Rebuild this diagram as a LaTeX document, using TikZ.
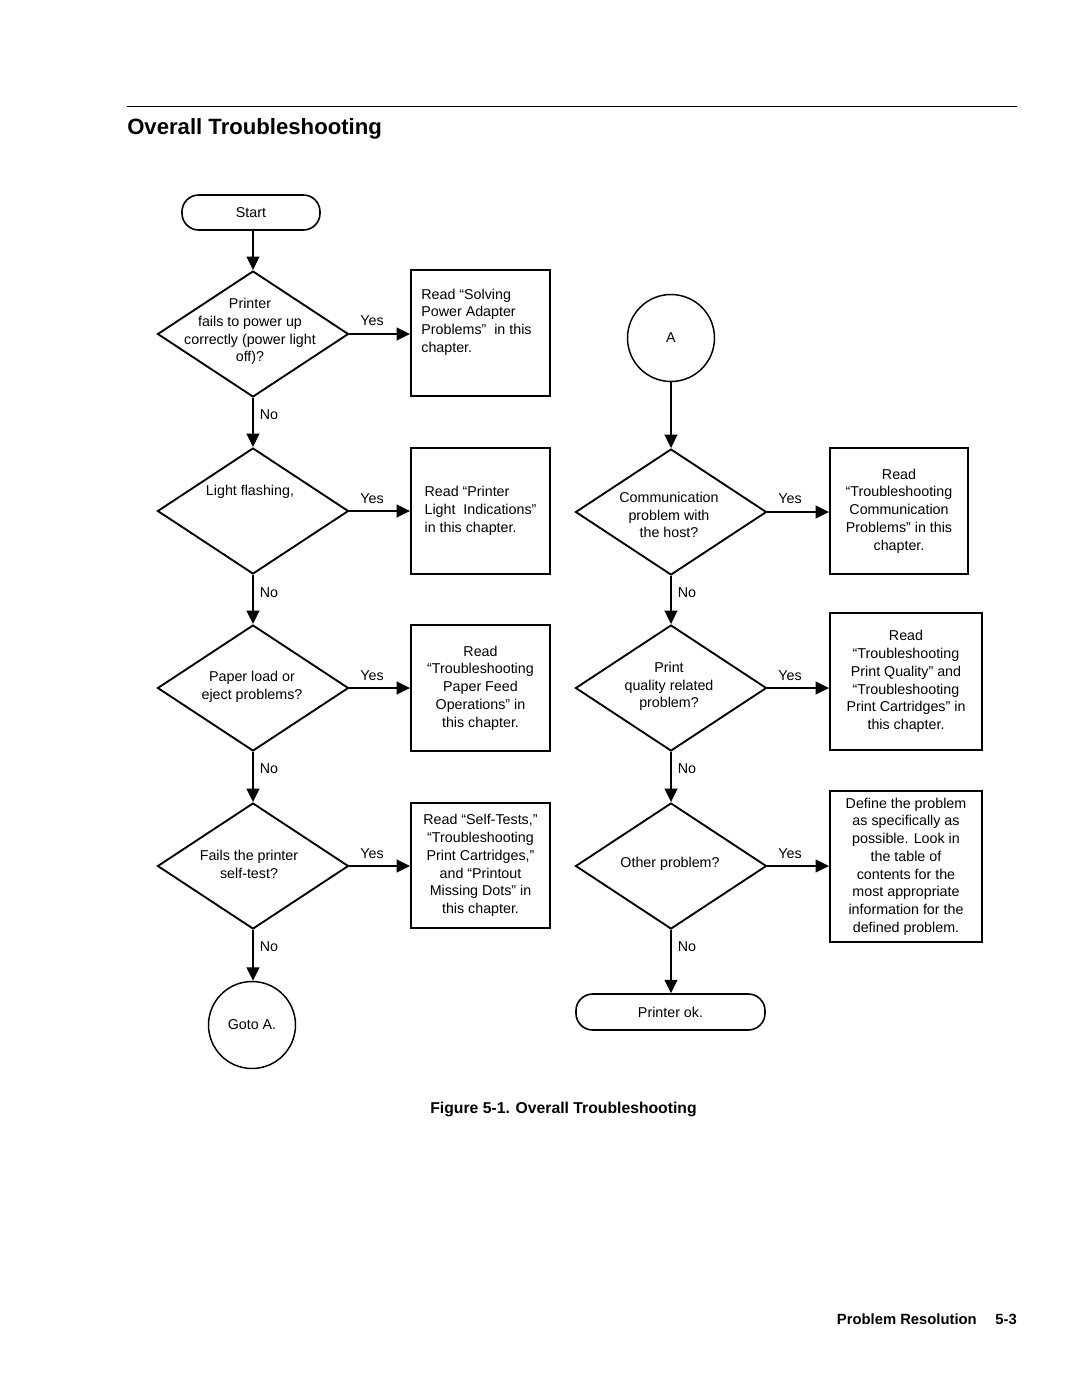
\documentclass[tikz,border=0pt]{standalone}
\usepackage{fontspec}
\setmainfont{Liberation Sans}
\usetikzlibrary{shapes.geometric,arrows.meta}
\begin{document}
\begin{tikzpicture}[x=0.75pt,y=-0.75pt,
  every node/.style={font=\fontsize{10.7pt}{13.3pt}\selectfont, inner sep=0pt},
  lw/.style={line width=1.4pt},
  dia/.style={draw,lw,diamond,minimum width=143.25pt,minimum height=94.5pt,inner sep=0pt},
  bx/.style={draw,lw,rectangle,inner sep=0pt},
  circ/.style={draw,line width=1.1pt,circle,minimum size=65.25pt,inner sep=0pt},
  term/.style={draw,line width=1.2pt,rectangle,rounded corners=12.5pt,inner sep=0pt},
  txt/.style={align=center},
  lab/.style={},
  arr/.style={lw,-{Triangle[length=10pt,width=9.5pt]}}
]
\useasboundingbox (0,0) rectangle (1080,1397);

% header
\draw[line width=0.7pt] (127,106) -- (1017,106);
\node[anchor=base west,font=\fontsize{16.6pt}{20pt}\selectfont\bfseries] (title) at (127,134) {Overall Troubleshooting};

% left column
\node[term,minimum width=103.5pt,minimum height=26.25pt] (start) at (251,212.5) {Start};

\node[dia] (d1) at (253,334) {};
\node[txt] (d1t) at (250,331.5) {Printer\\fails to power up\\correctly (power light\\off)?};
\node[dia] (d2) at (253,511) {};
\node[txt] (d2t) at (250,492) {Light flashing,};
\node[dia] (d3) at (253,688) {};
\node[txt] (d3t) at (252,686.5) {Paper load or\\eject problems?};
\node[dia] (d4) at (253,866) {};
\node[txt] (d4t) at (249,864.5) {Fails the printer\\self-test?};
\node[circ] (gotoa) at (252,1025) {Goto A.};

\node[bx,minimum width=104.25pt,minimum height=94.5pt] (b1) at (480.5,333) {};
\node[align=left] (b1t) at (476.5,322) {Read “Solving\\Power Adapter\\Problems”\ \ in this\\chapter.};
\node[bx,minimum width=104.25pt,minimum height=94.5pt,align=left] (b2) at (480.5,511) {Read “Printer\\Light\ \ Indications”\\in this chapter.};
\node[bx,minimum width=104.25pt,minimum height=94.5pt,align=center] (b3) at (480.5,688) {Read\\“Troubleshooting\\Paper Feed\\Operations”\ in\\this chapter.};
\node[bx,minimum width=104.25pt,minimum height=93.75pt,align=center] (b4) at (480.5,865.5) {Read “Self-Tests,”\\“Troubleshooting\\Print Cartridges,”\\and “Printout\\Missing Dots”\ in\\this chapter.};

% right column
\node[circ] (ca) at (671,338) {A};
\node[dia] (r1) at (671,512) {};
\node[txt] (r1t) at (669,515) {Communication\\problem with\\the host?};
\node[dia] (r2) at (671,688) {};
\node[txt] (r2t) at (669,686.5) {Print\\quality related\\problem?};
\node[dia] (r3) at (671,866) {};
\node[txt] (r3t) at (670,864) {Other problem?};
\node[term,minimum width=141.75pt,minimum height=27pt] (ok) at (670.5,1012) {Printer ok.};

\node[bx,minimum width=103.5pt,minimum height=94.5pt,align=center] (s1) at (899,511) {Read\\“Troubleshooting\\Communication\\Problems”\ in this\\chapter.};
\node[bx,minimum width=114pt,minimum height=102.75pt,align=center] (s2) at (906,681.5) {Read\\“Troubleshooting\\Print Quality”\ and\\“Troubleshooting\\Print Cartridges”\ in\\this chapter.};
\node[bx,minimum width=114pt,minimum height=113.25pt,align=center] (s3) at (906,866.5) {Define the problem\\as specifically as\\possible. Look in\\the table of\\contents for the\\most appropriate\\information for the\\defined problem.};

% connectors left
\draw[arr] (d1.north |- start.south) -- (d1.north);
\draw[arr] (d1.south) -- (d2.north);
\draw[arr] (d2.south) -- (d3.north);
\draw[arr] (d3.south) -- (d4.north);
\draw[arr] (d4.south) -- (d4.south |- gotoa.north);
\draw[arr] (d1.east) -- (d1.east -| b1.west);
\draw[arr] (d2.east) -- (d2.east -| b2.west);
\draw[arr] (d3.east) -- (d3.east -| b3.west);
\draw[arr] (d4.east) -- (d4.east -| b4.west);

% connectors right
\draw[arr] (r1.north |- ca.south) -- (r1.north);
\draw[arr] (r1.south) -- (r2.north);
\draw[arr] (r2.south) -- (r3.north);
\draw[arr] (r3.south) -- (r3.south |- ok.north);
\draw[arr] (r1.east) -- (r1.east -| s1.west);
\draw[arr] (r2.east) -- (r2.east -| s2.west);
\draw[arr] (r3.east) -- (r3.east -| s3.west);

% labels
\node[lab] (y1) at (372,321) {Yes};
\node[lab] (y2) at (372,499) {Yes};
\node[lab] (y3) at (372,676) {Yes};
\node[lab] (y4) at (372,854) {Yes};
\node[lab] (y5) at (790,499) {Yes};
\node[lab] (y6) at (790,676) {Yes};
\node[lab] (y7) at (790,854) {Yes};
\node[lab] (n1) at (269,415) {No};
\node[lab] (n2) at (269,593) {No};
\node[lab] (n3) at (269,769) {No};
\node[lab] (n4) at (269,947) {No};
\node[lab] (n5) at (687,593) {No};
\node[lab] (n6) at (687,769) {No};
\node[lab] (n7) at (687,947) {No};

% caption and footer
\node[anchor=base,font=\fontsize{11.8pt}{14pt}\selectfont\bfseries] (cap) at (563.5,1113) {Figure 5-1. Overall Troubleshooting};
\node[anchor=base east,font=\fontsize{11.1pt}{13pt}\selectfont\bfseries] (pg) at (1017,1324) {5-3};
\node[anchor=base east,font=\fontsize{11.1pt}{13pt}\selectfont\bfseries] (pr) at (977,1324) {Problem Resolution};
\end{tikzpicture}
\end{document}
